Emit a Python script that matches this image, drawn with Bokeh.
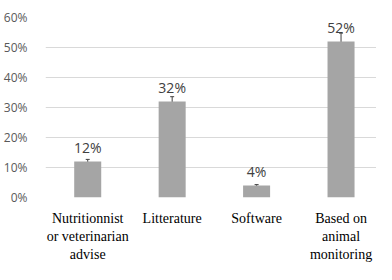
from bokeh.plotting import figure
from bokeh.models import ColumnDataSource, FixedTicker, Whisker, TeeHead
from bokeh.core.properties import value
from bokeh.embed import file_html
from bokeh.resources import INLINE

categories = ["Nutritionnist\nor veterinarian\nadvise", "Litterature", "Software", "Based on\nanimal\nmonitoring"]
values = [12, 32, 4, 52]
errors = [0.7, 1.6, 0.3, 2.8]
y_ticks = [0, 10, 20, 30, 40, 50, 60]

xs = list(range(len(categories)))
src = ColumnDataSource(dict(
    x=xs, top=values,
    lower=[v - e for v, e in zip(values, errors)],
    upper=[v + e for v, e in zip(values, errors)],
    label=[f"{v}%" for v in values],
))

p = figure(width=376, height=264, output_backend="svg", toolbar_location=None,
           x_range=(-0.5, 3.42), y_range=(0, 60),
           min_border_left=45, min_border_right=0, min_border_top=17, min_border_bottom=50)
p.outline_line_color = None
p.background_fill_color = "white"

p.vbar(x="x", top="top", width=0.32, source=src, fill_color="#A5A5A5", line_color=None)

w = Whisker(base="x", lower="lower", upper="upper", source=src,
            line_color="#404040", line_width=1,
            upper_head=TeeHead(size=4, line_color="#404040", line_width=1),
            lower_head=TeeHead(size=4, line_color="#404040", line_width=1))
p.add_layout(w)

p.text(x="x", y="top", text="label", source=src, text_align="center", text_baseline="bottom",
       y_offset=-5, text_font=value("Open Sans"), text_font_size="14px", text_color="#404040")

p.xgrid.grid_line_color = None
p.ygrid.grid_line_color = "#D9D9D9"
p.ygrid.ticker = FixedTicker(ticks=y_ticks)

p.yaxis.ticker = FixedTicker(ticks=y_ticks)
p.yaxis.major_label_overrides = {t: f"{t}%" for t in y_ticks}
p.yaxis.axis_line_color = None
p.yaxis.major_tick_line_color = None
p.yaxis.minor_tick_line_color = None
p.yaxis.major_label_text_font = "Open Sans"
p.yaxis.major_label_text_font_size = "12px"
p.yaxis.major_label_text_color = "#595959"
p.yaxis.major_label_standoff = 12

p.xaxis.ticker = FixedTicker(ticks=xs)
p.xaxis.major_label_overrides = {i: c for i, c in enumerate(categories)}
p.xaxis.axis_line_color = None
p.xaxis.major_tick_line_color = None
p.xaxis.minor_tick_line_color = None
p.xaxis.major_label_text_font = "Liberation Serif"
p.xaxis.major_label_text_font_size = "14px"
p.xaxis.major_label_text_color = "#000000"
p.xaxis.major_label_standoff = 7

open("out.html", "w").write(file_html(p, INLINE))
